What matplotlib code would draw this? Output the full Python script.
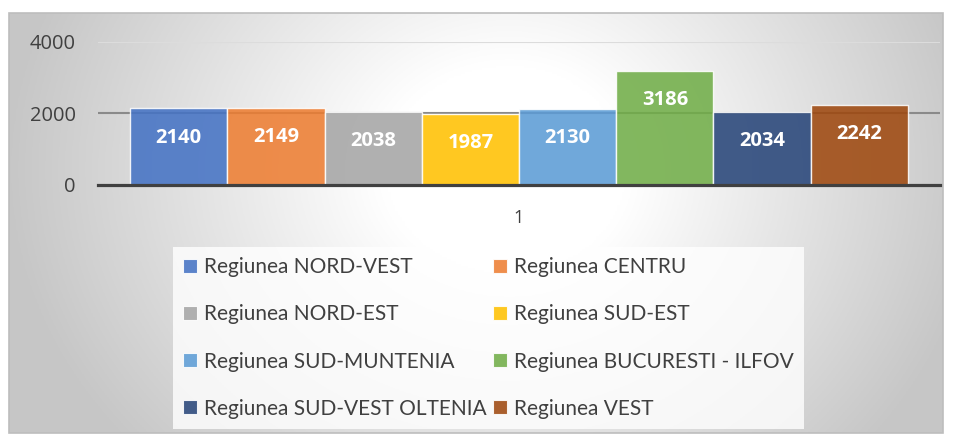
import numpy as np
import matplotlib
matplotlib.use("Agg")
import matplotlib.pyplot as plt
from matplotlib.patches import Patch, Rectangle

regions = ["Regiunea NORD-VEST", "Regiunea CENTRU", "Regiunea NORD-EST", "Regiunea SUD-EST",
           "Regiunea SUD-MUNTENIA", "Regiunea BUCURESTI - ILFOV", "Regiunea SUD-VEST OLTENIA",
           "Regiunea VEST"]
values = [2140, 2149, 2038, 1987, 2130, 3186, 2034, 2242]
colors = ["#4472C4", "#ED7D31", "#A5A5A5", "#FFC000", "#5B9BD5", "#70AD47", "#264478", "#9E480E"]
category = ["1"]
yticks = [0, 2000, 4000]

W, H = 954, 434
fig = plt.figure(figsize=(W / 100, H / 100), dpi=100)
fig.patch.set_facecolor("white")

# background gradient panel
bx0, by0, bx1, by1 = 9, 13, 943, 433
bg = fig.add_axes([bx0 / W, 1 - by1 / H, (bx1 - bx0) / W, (by1 - by0) / H], zorder=0)
gx = np.linspace(bx0, bx1, 400)
gy = np.linspace(by0, by1, 200)
X, Y = np.meshgrid(gx, gy)
cx, cy = 510, 170
rx = np.where(X < cx, 500, 470)
ry = 420
d = np.sqrt(((X - cx) / rx) ** 2 + ((Y - cy) / ry) ** 2)
d = np.clip((d - 0.25) / 0.75, 0, 1)
val = 1.0 - (1.0 - 0.78) * d
img = np.dstack([val, val, val])
bg.imshow(img, aspect="auto", extent=[0, 1, 0, 1], origin="upper")
bg.set_xlim(0, 1)
bg.set_ylim(0, 1)
bg.axis("off")
fig.add_artist(Rectangle((bx0 / W, 1 - by1 / H), (bx1 - bx0) / W, (by1 - by0) / H,
                         transform=fig.transFigure, fill=False, edgecolor="#bdbdbd", lw=1.2, zorder=1))

ax = fig.add_axes([98 / W, 1 - 185 / H, (940 - 98) / W, (185 - 42) / H], zorder=2)
ax.patch.set_alpha(0)

n = len(values)
offsets = np.arange(n) - (n - 1) / 2
for i, (v, c) in enumerate(zip(values, colors)):
    ax.bar(offsets[i], v, width=1.0, color=c, alpha=0.87, edgecolor=(1, 1, 1, 0.45), linewidth=1.0, zorder=3)
    ax.annotate(str(v), xy=(offsets[i], v), xytext=(0, -21), textcoords="offset points",
                ha="center", va="center", color="white", fontsize=14.5, fontweight="bold",
                family="Open Sans", zorder=5)

ax.set_xlim(-4.33, 4.33)
ax.set_ylim(0, 4000)
ax.axhline(2000, color="#8a8a8a", lw=1.5, zorder=2)
ax.axhline(4000, color="#dcdcdc", lw=1.5, zorder=2)
for s in ["top", "right", "left"]:
    ax.spines[s].set_visible(False)
ax.spines["bottom"].set_color("#404040")
ax.spines["bottom"].set_linewidth(2.3)
ax.spines["bottom"].set_zorder(6)
ax.set_yticks(yticks)
ax.set_yticklabels([str(t) for t in yticks])
ax.set_xticks([0])
ax.set_xticklabels(category)
ax.tick_params(axis="y", length=0, pad=16, labelsize=14.5, labelcolor="#404040")
ax.tick_params(axis="x", length=0, pad=17, labelsize=13, labelcolor="#404040")
for lab in ax.get_yticklabels() + ax.get_xticklabels():
    lab.set_family("Open Sans")

handles = [Patch(facecolor=c, alpha=0.87, edgecolor=(1, 1, 1, 0.5), linewidth=0.8) for c in colors]
order = [0, 2, 4, 6, 1, 3, 5, 7]
leg = fig.legend([handles[k] for k in order], [regions[k] for k in order], ncol=2, loc="upper left",
                 bbox_to_anchor=(173 / W, 1 - 247 / H),
                 frameon=True, fancybox=False, handlelength=0.65, handleheight=0.65,
                 handletextpad=0.35, columnspacing=0.3, labelspacing=1.3,
                 borderpad=0.5, borderaxespad=0,
                 prop={"family": "Lato", "size": 15})
leg.get_frame().set_facecolor((1, 1, 1, 0.5))
leg.get_frame().set_edgecolor("none")
leg.set_zorder(3)
for t in leg.get_texts():
    t.set_color("#404040")

fig.savefig("out.png", dpi=100)
